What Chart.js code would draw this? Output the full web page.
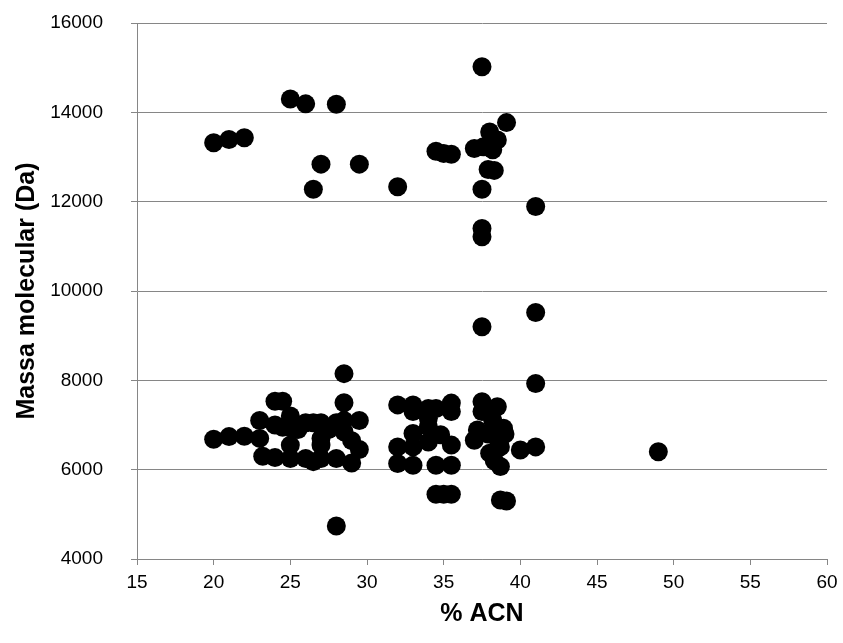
<!DOCTYPE html>
<html>
<head>
<meta charset="utf-8">
<script src="https://cdn.jsdelivr.net/npm/chart.js@4"></script>
<style>
  html, body { margin: 0; padding: 0; background: #fff; }
  #wrap { width: 843px; height: 643px; }
</style>
</head>
<body>
<div id="wrap"><canvas id="scatterChart" width="843" height="643"></canvas></div>
<script>
// % ACN (x) and molecular mass in Da (y)
const acn = [
  20, 21, 22, 25, 26, 28, 27, 29.5, 26.5, 32, 34.5, 35, 35.5, 37.5, 39.1, 38, 38.5, 37, 37.6, 38.2,
  37.9, 38.3, 37.5, 41, 37.5, 37.5, 37.5, 41, 41, 49,
  20, 21, 22,
  23, 23, 23.2, 24, 24.5, 24, 24.5, 24, 25, 25, 25, 25, 25.5, 26, 26, 26.5, 26.5, 27,
  27, 27, 27, 27.5, 28, 28, 28.5, 28.5, 28.5, 29, 29, 29.5, 29.5, 28, 28.5,
  32, 33, 33, 34, 34.5, 35.5, 35.5, 33, 34, 34.8, 34, 32, 33, 35.5, 32, 33, 34.5, 35.5,
  34.5, 35, 35.5, 34,
  37.5, 38.5, 37.5, 37.2, 38.9, 37, 37.9, 38, 38.7, 40, 41, 38.7, 38.7, 39.1, 38.2, 38.5, 39, 38.3
];
const mass = [
  13320, 13390, 13430, 14300, 14190, 14180, 12840, 12840, 12280, 12335, 13130, 13080, 13060, 15020, 13770, 13560, 13380, 13190, 13230, 13160,
  12720, 12700, 12280, 11890, 11400, 11215, 9200, 9520, 7930, 6400,
  6680, 6740, 6750,
  7100, 6700, 6300, 7530, 7530, 6270, 6950, 7000, 7200, 6950, 6550, 6250, 6900, 7050, 6250, 6180, 7050, 6700,
  6550, 7050, 6250, 6900, 7050, 6250, 8150, 7500, 6850, 6650, 6150, 7100, 6450, 4740, 7100,
  7450, 7450, 7300, 7370, 7370, 7490, 7300, 6810, 6960, 6780, 6620, 6510, 6510, 6550, 6140, 6100, 6100, 6100,
  5450, 5450, 5450, 7150,
  7520, 7410, 7300, 6890, 6930, 6660, 6800, 6370, 6510, 6440, 6510, 6070, 5320, 5300, 7100, 6700, 6800, 6200
];
const xTicks = [15, 20, 25, 30, 35, 40, 45, 50, 55, 60];
const yTicks = [4000, 6000, 8000, 10000, 12000, 14000, 16000];

const points = acn.map(function (x, i) { return { x: x, y: mass[i] }; });

const axisGray = "#868686";
const tickFont = { family: "'Liberation Sans', Arial, sans-serif", size: 19 };
const titleFont = { family: "'Liberation Sans', Arial, sans-serif", size: 25, weight: "bold" };

new Chart(document.getElementById("scatterChart").getContext("2d"), {
  type: "scatter",
  data: {
    datasets: [{
      data: points,
      backgroundColor: "#000",
      borderWidth: 0,
      pointRadius: 9.5,
      pointHoverRadius: 9.5
    }]
  },
  options: {
    responsive: false,
    animation: false,
    events: [],
    layout: { padding: { top: 23, right: 16, left: 12, bottom: 14 } },
    plugins: { legend: { display: false }, tooltip: { enabled: false } },
    scales: {
      x: {
        type: "linear",
        min: xTicks[0],
        max: xTicks[xTicks.length - 1],
        afterBuildTicks: function (scale) { scale.ticks = xTicks.map(function (v) { return { value: v }; }); },
        afterFit: function (scale) {
          scale.height = 643 - 559 - 14;
          scale.paddingLeft = 0;
          scale.paddingRight = 0;
        },
        grid: { drawOnChartArea: false, drawTicks: true, tickLength: 6, color: axisGray },
        border: { color: axisGray, width: 1 },
        ticks: { color: "#000", font: tickFont, padding: 6, maxRotation: 0 },
        title: { display: true, text: "% ACN", color: "#000", font: titleFont, padding: 0 }
      },
      y: {
        type: "linear",
        min: yTicks[0],
        max: yTicks[yTicks.length - 1],
        afterBuildTicks: function (scale) { scale.ticks = yTicks.map(function (v) { return { value: v }; }); },
        afterFit: function (scale) {
          scale.width = 137 - 12;
          scale.paddingTop = 0;
          scale.paddingBottom = 0;
        },
        grid: { drawTicks: true, tickLength: 6, color: axisGray },
        border: { color: axisGray, width: 1 },
        ticks: { color: "#000", font: tickFont, padding: 28, callback: function (v) { return String(v); } },
        title: { display: true, text: "Massa molecular (Da)", color: "#000", font: titleFont, padding: 0 }
      }
    }
  }
});
</script>
</body>
</html>
